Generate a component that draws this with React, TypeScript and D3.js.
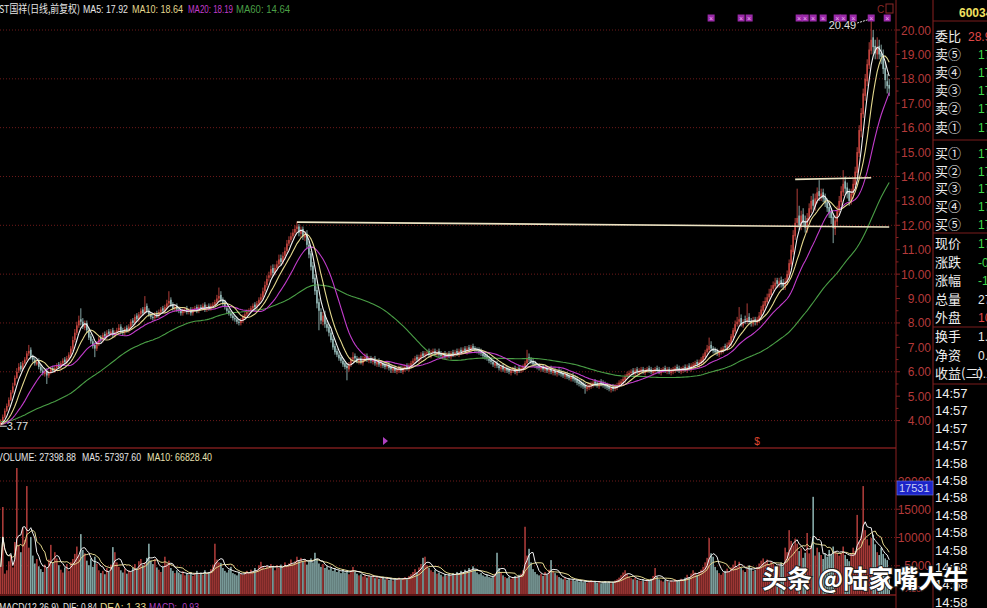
import { useEffect } from "react"
import * as d3 from "d3"

const W = 987
const H = 608

// closes before the first visible candle (only feed the moving averages),
// estimated from where the MA lines start at the left edge
const historyCloses = [
  4.10, 4.05, 4.15, 4.20, 4.12, 4.08, 4.00, 3.95, 4.02, 4.10,
  4.18, 4.25, 4.20, 4.15, 4.08, 4.00, 3.98, 4.05, 4.12, 4.08,
  4.02, 3.96, 3.90, 3.94, 4.00, 4.06, 4.02, 3.98, 3.92, 3.88,
  3.92, 3.98, 4.04, 4.00, 3.95, 3.90, 3.86, 3.90, 3.96, 3.92,
  3.88, 3.84, 3.80, 3.85, 3.90, 3.86, 3.82, 3.78, 3.84, 3.88,
  3.84, 3.80, 3.86, 3.82, 3.78, 3.83, 3.87, 3.82, 3.80,
]

// daily candles (oldest first)
const opens = [
  3.85, 3.95, 4.15, 4.40, 4.60, 4.85, 5.15, 5.45, 5.75, 6.05,
  6.25, 6.10, 6.35, 6.50, 6.75, 6.90, 6.60, 6.50, 6.30, 6.45,
  6.20, 6.05, 5.90, 6.05, 5.85, 5.95, 6.15, 6.00, 6.15, 6.30,
  6.20, 6.35, 6.50, 6.40, 6.55, 6.70, 6.95, 7.30, 7.60, 7.90,
  8.15, 8.05, 7.80, 8.00, 7.70, 7.45, 7.25, 7.10, 6.95, 7.15,
  7.40, 7.30, 7.55, 7.45, 7.65, 7.55, 7.70, 7.50, 7.60, 7.70,
  7.85, 7.70, 7.60, 7.80, 7.70, 7.85, 8.10, 8.00, 8.30, 8.15,
  8.35, 8.55, 8.40, 8.70, 8.50, 8.35, 8.25, 8.20, 8.40, 8.30,
  8.45, 8.60, 8.50, 8.65, 8.80, 8.95, 8.75, 8.55, 8.70, 8.55,
  8.50, 8.40, 8.50, 8.60, 8.45, 8.55, 8.40, 8.55, 8.65, 8.50,
  8.65, 8.60, 8.75, 8.55, 8.70, 8.60, 8.70, 8.75, 8.85, 9.00,
  9.15, 8.95, 8.85, 8.60, 8.50, 8.40, 8.30, 8.20, 8.15, 8.05,
  8.00, 8.10, 8.25, 8.35, 8.45, 8.50, 8.60, 8.75, 8.65, 8.80,
  8.95, 9.05, 9.30, 9.55, 9.85, 9.95, 10.25, 10.05, 10.25, 10.40,
  10.65, 10.50, 10.75, 10.95, 11.25, 11.40, 11.55, 11.70, 11.85, 11.95,
  11.65, 11.85, 11.50, 11.65, 11.20, 10.85, 10.35, 9.85, 9.35, 8.85,
  8.45, 8.05, 8.35, 7.95, 7.85, 7.60, 7.35, 7.05, 6.85, 6.70,
  6.60, 6.45, 6.35, 6.25, 6.10, 6.30, 6.50, 6.65, 6.55, 6.40,
  6.55, 6.35, 6.50, 6.65, 6.45, 6.55, 6.40, 6.55, 6.30, 6.45,
  6.25, 6.35, 6.30, 6.20, 6.30, 6.20, 6.05, 6.15, 6.00, 6.05,
  6.15, 6.00, 6.10, 6.25, 6.10, 6.25, 6.35, 6.45, 6.60, 6.45,
  6.55, 6.75, 6.65, 6.75, 6.85, 6.65, 6.80, 6.85, 6.70, 6.85,
  6.75, 6.60, 6.75, 6.60, 6.75, 6.60, 6.80, 6.70, 6.85, 6.70,
  6.90, 6.80, 6.95, 6.80, 7.00, 6.85, 7.05, 6.95, 6.90, 6.90,
  6.85, 6.75, 6.70, 6.65, 6.55, 6.50, 6.40, 6.25, 6.35, 6.25,
  6.10, 6.25, 6.05, 6.15, 6.10, 5.95, 6.05, 6.15, 5.95, 6.15,
  6.05, 6.10, 6.20, 6.35, 6.60, 6.50, 6.45, 6.35, 6.25, 6.25,
  6.10, 6.25, 6.05, 6.15, 6.00, 6.15, 5.95, 6.05, 5.90, 6.05,
  6.00, 5.95, 5.80, 5.90, 5.85, 5.70, 5.85, 5.75, 5.70, 5.60,
  5.55, 5.50, 5.45, 5.30, 5.35, 5.40, 5.45, 5.60, 5.55, 5.40,
  5.60, 5.55, 5.50, 5.45, 5.40, 5.25, 5.40, 5.30, 5.35, 5.45,
  5.50, 5.60, 5.65, 5.80, 5.85, 5.95, 6.05, 5.90, 6.10, 5.95,
  6.00, 6.10, 5.95, 6.05, 6.15, 6.10, 5.95, 6.00, 6.15, 6.10,
  5.95, 6.05, 6.15, 6.00, 6.10, 5.95, 6.00, 6.05, 6.20, 6.15,
  6.00, 6.05, 6.20, 6.05, 6.25, 6.10, 6.20, 6.25, 6.40, 6.25,
  6.35, 6.45, 6.60, 6.80, 6.90, 7.10, 6.95, 6.90, 6.85, 6.70,
  6.80, 6.85, 7.05, 6.95, 7.10, 7.15, 7.40, 7.65, 7.95, 8.05,
  8.20, 7.90, 8.15, 8.05, 8.25, 8.10, 7.95, 8.15, 8.00, 8.10,
  8.30, 8.50, 8.70, 8.85, 9.05, 9.15, 9.40, 9.50, 9.75, 9.55,
  9.75, 9.65, 9.45, 9.65, 9.95, 10.40, 10.90, 11.55, 12.10, 12.40,
  11.95, 12.45, 12.15, 11.85, 12.25, 12.65, 13.05, 12.75, 13.05, 13.40,
  13.15, 13.35, 13.15, 12.95, 12.75, 12.55, 12.35, 11.85, 12.15, 12.55,
  12.95, 13.35, 13.80, 13.55, 13.35, 12.95, 13.25, 13.65, 14.15, 14.95,
  15.85, 16.55, 17.30, 17.90, 18.55, 19.15, 19.70, 19.35, 19.00, 19.35,
  19.05, 18.95, 18.45, 17.90, 17.75,
]

const highs = [
  4.05, 4.25, 4.50, 4.70, 4.95, 5.25, 5.55, 5.85, 6.15, 6.35,
  6.40, 6.45, 6.60, 6.85, 7.10, 7.00, 6.70, 6.60, 6.50, 6.55,
  6.30, 6.15, 6.10, 6.15, 6.05, 6.20, 6.25, 6.25, 6.35, 6.40,
  6.45, 6.55, 6.60, 6.65, 6.80, 7.05, 7.45, 7.75, 8.05, 8.30,
  8.60, 8.20, 8.10, 8.10, 7.80, 7.55, 7.35, 7.20, 7.25, 7.45,
  7.50, 7.60, 7.65, 7.70, 7.75, 7.75, 7.80, 7.70, 7.80, 7.95,
  7.95, 7.80, 7.85, 7.90, 7.95, 8.15, 8.20, 8.35, 8.40, 8.45,
  8.60, 8.65, 9.10, 8.80, 8.60, 8.45, 8.35, 8.45, 8.50, 8.55,
  8.65, 8.70, 8.75, 8.95, 9.30, 9.05, 8.85, 8.75, 8.80, 8.65,
  8.60, 8.60, 8.65, 8.70, 8.60, 8.65, 8.65, 8.70, 8.75, 8.75,
  8.75, 8.80, 8.85, 8.75, 8.80, 8.80, 8.85, 8.95, 9.15, 9.45,
  9.30, 9.05, 8.95, 8.70, 8.60, 8.50, 8.40, 8.30, 8.25, 8.15,
  8.20, 8.35, 8.45, 8.55, 8.60, 8.70, 8.80, 8.85, 8.90, 9.05,
  9.20, 9.45, 9.70, 9.95, 10.10, 10.35, 10.40, 10.40, 10.55, 10.80,
  10.80, 10.90, 11.10, 11.40, 11.55, 11.70, 11.85, 12.00, 12.15, 12.05,
  11.95, 11.95, 11.75, 11.80, 11.35, 10.95, 10.50, 10.00, 9.50, 9.00,
  8.60, 8.45, 8.50, 8.10, 7.95, 7.70, 7.45, 7.15, 6.95, 6.80,
  6.70, 6.55, 6.45, 6.35, 6.40, 6.60, 6.80, 6.75, 6.65, 6.60,
  6.65, 6.65, 6.75, 6.75, 6.65, 6.65, 6.60, 6.65, 6.50, 6.55,
  6.45, 6.45, 6.40, 6.40, 6.40, 6.30, 6.25, 6.25, 6.20, 6.25,
  6.25, 6.25, 6.30, 6.35, 6.35, 6.45, 6.55, 6.65, 6.70, 6.70,
  6.80, 6.85, 6.85, 6.90, 6.95, 6.90, 6.95, 6.95, 6.90, 6.95,
  6.85, 6.80, 6.85, 6.80, 6.85, 6.85, 6.90, 6.90, 6.95, 6.95,
  7.00, 7.00, 7.05, 7.05, 7.10, 7.10, 7.15, 7.05, 7.00, 7.00,
  6.95, 6.85, 6.80, 6.75, 6.65, 6.60, 6.50, 6.45, 6.45, 6.35,
  6.30, 6.35, 6.25, 6.25, 6.20, 6.15, 6.20, 6.25, 6.20, 6.25,
  6.25, 6.30, 6.45, 6.90, 6.75, 6.60, 6.55, 6.45, 6.35, 6.35,
  6.30, 6.30, 6.25, 6.25, 6.20, 6.25, 6.15, 6.15, 6.10, 6.15,
  6.10, 6.05, 6.00, 6.00, 5.95, 5.90, 5.95, 5.85, 5.80, 5.70,
  5.65, 5.60, 5.55, 5.50, 5.55, 5.60, 5.65, 5.70, 5.65, 5.65,
  5.70, 5.65, 5.60, 5.55, 5.50, 5.45, 5.50, 5.50, 5.55, 5.65,
  5.70, 5.80, 5.90, 6.00, 6.05, 6.10, 6.15, 6.15, 6.20, 6.15,
  6.20, 6.20, 6.15, 6.20, 6.25, 6.20, 6.15, 6.20, 6.25, 6.20,
  6.15, 6.20, 6.25, 6.20, 6.20, 6.15, 6.20, 6.25, 6.30, 6.25,
  6.20, 6.25, 6.30, 6.30, 6.35, 6.35, 6.40, 6.45, 6.50, 6.50,
  6.60, 6.75, 6.90, 7.10, 7.40, 7.25, 7.05, 7.00, 6.95, 6.90,
  7.00, 7.05, 7.15, 7.20, 7.30, 7.55, 7.80, 8.10, 8.25, 8.65,
  8.35, 8.15, 8.30, 8.80, 8.40, 8.20, 8.25, 8.25, 8.25, 8.45,
  8.70, 8.90, 9.05, 9.20, 9.40, 9.55, 9.70, 9.85, 9.85, 9.85,
  9.90, 9.80, 9.85, 10.15, 10.60, 11.20, 11.80, 12.30, 13.50, 12.80,
  12.60, 12.70, 12.40, 12.50, 12.90, 13.20, 13.30, 13.30, 13.55, 13.85,
  13.50, 13.50, 13.30, 13.10, 12.90, 12.70, 12.50, 12.40, 12.80, 13.20,
  13.60, 14.26, 14.00, 13.75, 13.50, 13.50, 13.90, 14.40, 15.20, 16.10,
  16.80, 17.60, 18.20, 18.80, 19.50, 20.49, 20.00, 19.60, 19.70, 19.60,
  19.40, 19.20, 18.70, 18.20, 18.00,
]

const lows = [
  3.77, 3.90, 4.10, 4.35, 4.55, 4.80, 5.10, 5.40, 5.70, 5.95,
  6.00, 6.05, 6.30, 6.45, 6.65, 6.50, 6.40, 6.25, 6.25, 6.10,
  5.95, 5.85, 5.80, 5.50, 5.75, 5.90, 5.95, 5.95, 6.10, 6.10,
  6.10, 6.25, 6.30, 6.30, 6.45, 6.60, 6.85, 7.20, 7.50, 7.80,
  7.90, 7.75, 7.70, 7.60, 7.30, 7.15, 6.95, 6.60, 6.85, 7.05,
  7.20, 7.20, 7.35, 7.35, 7.45, 7.45, 7.40, 7.40, 7.50, 7.60,
  7.55, 7.50, 7.50, 7.60, 7.60, 7.75, 7.90, 7.90, 8.05, 8.05,
  8.25, 8.30, 8.35, 8.40, 8.25, 8.15, 8.10, 8.10, 8.20, 8.20,
  8.35, 8.40, 8.40, 8.55, 8.70, 8.65, 8.50, 8.45, 8.45, 8.40,
  8.30, 8.30, 8.40, 8.35, 8.35, 8.30, 8.30, 8.45, 8.40, 8.40,
  8.50, 8.50, 8.45, 8.45, 8.50, 8.50, 8.60, 8.70, 8.75, 8.90,
  8.85, 8.70, 8.55, 8.40, 8.30, 8.20, 8.10, 8.05, 7.95, 7.90,
  7.90, 8.00, 8.15, 8.25, 8.35, 8.40, 8.50, 8.55, 8.55, 8.70,
  8.85, 8.95, 9.20, 9.45, 9.70, 9.85, 9.90, 9.95, 10.15, 10.30,
  10.35, 10.40, 10.60, 10.85, 11.15, 11.30, 11.45, 11.60, 11.70, 11.55,
  11.50, 11.40, 11.35, 11.05, 10.65, 10.15, 9.65, 9.15, 8.60, 7.70,
  7.95, 7.90, 7.80, 7.65, 7.45, 7.20, 6.90, 6.70, 6.60, 6.45,
  6.35, 6.20, 6.10, 5.65, 6.00, 6.20, 6.40, 6.45, 6.35, 6.30,
  6.30, 6.25, 6.40, 6.40, 6.35, 6.35, 6.30, 6.25, 6.20, 6.20,
  6.15, 6.15, 6.10, 6.10, 6.05, 5.95, 5.95, 5.95, 5.90, 5.95,
  5.95, 5.90, 6.00, 6.05, 6.00, 6.15, 6.25, 6.35, 6.40, 6.35,
  6.45, 6.55, 6.55, 6.65, 6.60, 6.55, 6.70, 6.65, 6.60, 6.60,
  6.55, 6.50, 6.50, 6.50, 6.55, 6.50, 6.60, 6.60, 6.65, 6.60,
  6.70, 6.70, 6.75, 6.70, 6.80, 6.80, 6.85, 6.80, 6.75, 6.70,
  6.65, 6.55, 6.50, 6.45, 6.35, 6.30, 6.20, 6.15, 6.15, 6.05,
  6.00, 6.00, 5.95, 5.95, 5.90, 5.85, 5.95, 5.90, 5.85, 5.95,
  5.95, 6.00, 6.10, 6.30, 6.40, 6.30, 6.20, 6.15, 6.10, 6.05,
  6.00, 6.00, 5.95, 5.95, 5.90, 5.90, 5.85, 5.85, 5.80, 5.85,
  5.80, 5.75, 5.70, 5.70, 5.65, 5.60, 5.60, 5.55, 5.45, 5.40,
  5.35, 5.30, 5.10, 5.20, 5.25, 5.30, 5.35, 5.40, 5.35, 5.30,
  5.40, 5.35, 5.30, 5.25, 5.20, 5.15, 5.20, 5.20, 5.25, 5.35,
  5.40, 5.50, 5.55, 5.70, 5.75, 5.85, 5.85, 5.80, 5.90, 5.85,
  5.90, 5.90, 5.85, 5.95, 5.95, 5.90, 5.85, 5.90, 5.95, 5.90,
  5.85, 5.95, 5.95, 5.90, 5.90, 5.85, 5.90, 5.95, 6.00, 5.95,
  5.90, 5.95, 6.00, 5.95, 6.05, 6.00, 6.10, 6.15, 6.20, 6.15,
  6.25, 6.35, 6.50, 6.70, 6.80, 6.85, 6.75, 6.70, 6.65, 6.60,
  6.70, 6.75, 6.90, 6.85, 7.00, 7.05, 7.30, 7.55, 7.85, 7.90,
  7.85, 7.80, 7.95, 7.95, 7.95, 7.85, 7.85, 7.90, 7.90, 8.00,
  8.20, 8.40, 8.60, 8.75, 8.95, 9.05, 9.30, 9.40, 9.45, 9.45,
  9.45, 9.35, 9.35, 9.55, 9.85, 10.30, 10.80, 11.40, 11.90, 11.80,
  11.80, 11.95, 11.70, 11.70, 12.10, 12.50, 12.60, 12.60, 12.90, 13.00,
  13.00, 12.95, 12.75, 12.55, 12.30, 12.05, 11.27, 11.60, 12.00, 12.40,
  12.80, 13.20, 13.30, 13.10, 12.80, 12.85, 13.10, 13.50, 14.00, 14.80,
  15.60, 16.40, 17.10, 17.70, 18.40, 19.00, 19.00, 18.80, 18.80, 18.80,
  18.60, 18.20, 17.60, 17.40, 17.30,
]

const closes = [
  3.95, 4.15, 4.40, 4.60, 4.85, 5.15, 5.40, 5.75, 6.00, 6.20,
  6.10, 6.35, 6.50, 6.75, 6.85, 6.60, 6.50, 6.35, 6.40, 6.20,
  6.05, 5.95, 6.00, 5.85, 5.95, 6.10, 6.05, 6.15, 6.25, 6.20,
  6.35, 6.45, 6.40, 6.55, 6.70, 6.95, 7.30, 7.60, 7.90, 8.10,
  8.05, 7.85, 7.95, 7.70, 7.40, 7.25, 7.05, 6.95, 7.15, 7.35,
  7.30, 7.50, 7.45, 7.60, 7.55, 7.65, 7.50, 7.60, 7.70, 7.80,
  7.65, 7.60, 7.75, 7.70, 7.85, 8.05, 8.00, 8.25, 8.15, 8.35,
  8.50, 8.40, 8.65, 8.50, 8.35, 8.25, 8.20, 8.35, 8.30, 8.45,
  8.55, 8.50, 8.65, 8.80, 8.90, 8.75, 8.60, 8.65, 8.55, 8.50,
  8.40, 8.50, 8.55, 8.45, 8.50, 8.40, 8.55, 8.60, 8.50, 8.65,
  8.60, 8.70, 8.55, 8.65, 8.60, 8.70, 8.75, 8.85, 9.00, 9.10,
  8.95, 8.80, 8.65, 8.50, 8.40, 8.30, 8.20, 8.15, 8.05, 8.00,
  8.10, 8.25, 8.35, 8.45, 8.50, 8.60, 8.70, 8.65, 8.80, 8.95,
  9.05, 9.30, 9.55, 9.80, 9.95, 10.20, 10.05, 10.25, 10.40, 10.60,
  10.50, 10.75, 10.95, 11.25, 11.40, 11.55, 11.70, 11.85, 11.95, 11.70,
  11.80, 11.55, 11.60, 11.20, 10.80, 10.30, 9.80, 9.30, 8.80, 8.50,
  8.10, 8.30, 7.95, 7.80, 7.60, 7.30, 7.00, 6.80, 6.70, 6.55,
  6.45, 6.30, 6.20, 6.15, 6.30, 6.50, 6.60, 6.55, 6.45, 6.50,
  6.40, 6.55, 6.60, 6.50, 6.55, 6.45, 6.50, 6.35, 6.40, 6.30,
  6.35, 6.25, 6.20, 6.30, 6.15, 6.10, 6.15, 6.05, 6.10, 6.15,
  6.05, 6.15, 6.20, 6.15, 6.25, 6.35, 6.45, 6.55, 6.50, 6.60,
  6.70, 6.65, 6.75, 6.80, 6.70, 6.80, 6.85, 6.75, 6.80, 6.70,
  6.65, 6.70, 6.60, 6.70, 6.65, 6.75, 6.70, 6.80, 6.75, 6.85,
  6.80, 6.90, 6.85, 6.95, 6.90, 7.00, 6.95, 6.90, 6.85, 6.80,
  6.75, 6.65, 6.60, 6.55, 6.45, 6.40, 6.30, 6.35, 6.25, 6.15,
  6.20, 6.10, 6.15, 6.05, 6.00, 6.05, 6.10, 6.00, 6.10, 6.05,
  6.15, 6.20, 6.35, 6.55, 6.50, 6.40, 6.30, 6.25, 6.20, 6.15,
  6.20, 6.10, 6.15, 6.05, 6.10, 6.00, 6.05, 5.95, 6.00, 5.95,
  5.90, 5.85, 5.90, 5.80, 5.75, 5.80, 5.70, 5.65, 5.55, 5.50,
  5.45, 5.40, 5.35, 5.40, 5.45, 5.50, 5.55, 5.50, 5.45, 5.55,
  5.50, 5.45, 5.40, 5.35, 5.30, 5.35, 5.30, 5.40, 5.45, 5.55,
  5.60, 5.70, 5.80, 5.90, 5.95, 6.00, 5.95, 6.05, 6.00, 6.05,
  6.10, 6.00, 6.05, 6.10, 6.05, 6.00, 6.05, 6.10, 6.05, 6.00,
  6.05, 6.10, 6.05, 6.10, 6.00, 6.05, 6.10, 6.15, 6.10, 6.05,
  6.10, 6.15, 6.10, 6.20, 6.15, 6.25, 6.30, 6.35, 6.30, 6.40,
  6.50, 6.65, 6.80, 6.95, 7.05, 6.95, 6.85, 6.80, 6.75, 6.80,
  6.90, 6.95, 7.00, 7.10, 7.20, 7.45, 7.70, 7.95, 8.05, 8.15,
  7.95, 8.00, 8.10, 8.20, 8.05, 8.00, 8.10, 8.05, 8.15, 8.30,
  8.55, 8.75, 8.90, 9.05, 9.20, 9.40, 9.55, 9.65, 9.60, 9.70,
  9.60, 9.50, 9.70, 10.00, 10.45, 11.00, 11.60, 12.10, 12.30, 12.00,
  12.40, 12.10, 11.90, 12.30, 12.70, 13.00, 12.80, 13.10, 13.35, 13.20,
  13.30, 13.10, 12.90, 12.70, 12.50, 12.30, 11.90, 12.20, 12.60, 13.00,
  13.40, 13.70, 13.50, 13.30, 13.00, 13.30, 13.70, 14.20, 15.00, 15.90,
  16.60, 17.40, 18.00, 18.60, 19.20, 19.60, 19.30, 19.05, 19.30, 19.00,
  18.90, 18.40, 17.95, 17.70, 17.60,
]

// volume in axis units (x10)
const volumes = [
  4800, 15400, 3600, 4200, 5800, 6900, 4700, 9200, 22300, 8600,
  7400, 11700, 9600, 19100, 8200, 10100, 6800, 5400, 6200, 4900,
  4400, 3900, 5200, 4600, 6100, 8700, 5600, 7400, 6300, 5100,
  4300, 3800, 4700, 5300, 4100, 5600, 6200, 7100, 8400, 6900,
  10600, 7800, 7200, 5900, 5100, 6300, 4800, 6600, 5400, 4200,
  3700, 4100, 3500, 4600, 3900, 5200, 8300, 7400, 5600, 4800,
  4200, 3800, 4500, 3600, 4100, 3900, 4700, 5300, 4400, 5800,
  6200, 5100, 5600, 6400, 8900, 5900, 5300, 6200, 4700, 4300,
  3900, 4800, 6600, 5400, 5900, 4600, 4100, 3700, 4200, 3800,
  3500, 4000, 3300, 3700, 3400, 3900, 3200, 3600, 4100, 3500,
  3800, 3400, 4200, 3600, 3900, 4400, 5200, 8900, 6100, 5600,
  5500, 4600, 4100, 3800, 4300, 4800, 3700, 3500, 3300, 3900,
  3600, 3400, 3800, 4100, 3700, 4300, 3900, 4600, 4200, 5100,
  5700, 4800, 4400, 5000, 4600, 5300, 4900, 4200, 5100, 4600,
  5200, 4700, 5600, 4900, 5400, 6100, 5300, 5800, 6600, 5900,
  6400, 5700, 6100, 5200, 5800, 6300, 5600, 7300, 6200, 5400,
  4800, 5300, 4600, 4900, 4300, 4700, 4100, 4500, 3900, 4200,
  3700, 4400, 3800, 4100, 3500, 4200, 4800, 3900, 3600, 3300,
  3500, 3100, 3400, 2900, 3200, 3000, 3300, 2800, 3100, 2700,
  2800, 3000, 2600, 2900, 2500, 2700, 2400, 2800, 2600, 2900,
  2500, 2700, 3000, 2600, 3200, 3500, 3900, 4400, 3800, 4700,
  5300, 6400, 6600, 5100, 4600, 4200, 3900, 4300, 3600, 3800,
  3400, 3100, 3500, 3200, 3600, 3300, 3700, 3400, 3900, 3600,
  4100, 3800, 4300, 4000, 4600, 4300, 4900, 4200, 3800, 3500,
  3700, 3300, 3100, 3400, 3000, 2900, 3200, 3600, 7300, 4600,
  3800, 3300, 3000, 2800, 3100, 2700, 2900, 3200, 3000, 3400,
  3600, 4200, 11900, 6800, 8000, 5600, 4400, 3900, 3500, 3300,
  3600, 3200, 3900, 3500, 4300, 6000, 4100, 3700, 3300, 3000,
  2800, 2600, 2900, 2500, 2700, 2400, 2600, 2300, 2500, 2200,
  2400, 2100, 2300, 2000, 2200, 2400, 2100, 2300, 2000, 2200,
  1900, 2100, 2300, 2000, 2200, 1900, 2100, 2400, 2600, 2900,
  3300, 3800, 4200, 3600, 3100, 2800, 2600, 2900, 2500, 2400,
  2300, 2600, 2200, 2500, 2300, 2700, 3200, 4600, 3100, 2600,
  2400, 2200, 2500, 2300, 2100, 2400, 2200, 2600, 2300, 2500,
  2700, 2400, 2900, 3400, 3000, 3600, 4200, 3800, 3400, 3900,
  4300, 4800, 5600, 6400, 9900, 7200, 6600, 4800, 4200, 3700,
  3400, 3800, 4100, 4500, 3900, 4700, 5200, 5900, 4800, 5700,
  4600, 4200, 3900, 4400, 5100, 4600, 4100, 4300, 4800, 5400,
  5900, 6300, 5600, 6100, 5200, 5800, 5300, 4900, 4600, 5200,
  5600, 4900, 8200, 7400, 11300, 9400, 8600, 9800, 8900, 7600,
  8100, 6400, 7300, 10800, 7200, 8600, 17200, 6800, 8200, 7400,
  6900, 6200, 7100, 6600, 7800, 6900, 8400, 7600, 7300, 6800,
  7200, 8400, 6900, 6200, 5800, 7100, 8200, 7600, 14000, 9300,
  10200, 19100, 11300, 9700, 8600, 9900, 10500, 8800, 7400, 6900,
  8200, 7100, 6300, 6000, 2740,
]

const priceTicks = d3.range(4, 21, 1)
const volTicks = [5000, 10000, 15000, 20000]

// hand-drawn horizontal lines: [start index, start price, end index, end price]
const drawnLines = [
  [148, 12.13, 444, 11.93],
  [397, 13.88, 435, 13.95],
]

const topMarkers = [355, 370, 374, 399, 402, 406, 411, 418, 421, 426, 435, 443]

const quoteLabels = ["委比", "卖⑤", "卖④", "卖③", "卖②", "卖①", "买①", "买②", "买③", "买④", "买⑤",
  "现价", "涨跌", "涨幅", "总量", "外盘", "换手", "净资", "收益(二)"]
const quoteValues = ["28.97", "17.98", "17.97", "17.96", "17.95", "17.94", "17.60", "17.59", "17.58", "17.57", "17.56",
  "17.60", "-0.27", "-1.51%", "27399", "10532", "1.23", "0.51", "-0.13"]
const quoteKinds = ["up", "dn", "dn", "dn", "dn", "dn", "dn", "dn", "dn", "dn", "dn",
  "dn", "dn", "dn", "flat", "up", "flat", "flat", "flat"]
const tickTimes = ["14:57", "14:57", "14:57", "14:57", "14:58", "14:58", "14:58", "14:58", "14:58",
  "14:58", "14:58", "14:58", "14:58"]

const UP = "#c4453f"
const DOWN = "#93b8b6"
const GRID = "#6e1a1a"
const AXIS_TXT = "#b43a3a"
const MA_COLORS = { ma5: "#f2f2f2", ma10: "#e4d98e", ma20: "#c23ccc", ma60: "#4a9f46" }

const movingAvg = (vals: number[], n: number) =>
  vals.map((_, i) => d3.mean(vals.slice(Math.max(0, i - n + 1), i + 1)) as number)

const NUM_FONT = "'Liberation Sans', Arial, sans-serif"
const CJK_FONT = "'Noto Sans CJK SC', 'Noto Sans', sans-serif"

export default function App() {
  useEffect(() => {
    document.body.style.margin = "0"
    document.body.style.background = "#000"
    document.body.style.overflow = "hidden"
  }, [])

  const n = Math.min(opens.length, highs.length, lows.length, closes.length, volumes.length)
  const idx = d3.range(n)

  const x = d3.scaleBand<number>().domain(idx).range([0, 890]).paddingInner(0.2)
  const cx = (i: number) => (x(i) as number) + x.bandwidth() / 2
  const yP = d3.scaleLinear().domain([4, 20]).range([420.6, 30])
  const yV = d3.scaleLinear().domain([0, 20000]).range([594, 481])

  // moving averages run over history + visible closes, then keep the visible part
  const allCloses = [...historyCloses, ...closes.slice(0, n)]
  const visible = (arr: number[]) => arr.slice(historyCloses.length)
  const ma = {
    ma5: visible(movingAvg(allCloses, 5)),
    ma10: visible(movingAvg(allCloses, 10)),
    ma20: visible(movingAvg(allCloses, 20)),
    ma60: visible(movingAvg(allCloses, 60)),
  }
  const vma5 = movingAvg(volumes.slice(0, n), 5)
  const vma10 = movingAvg(volumes.slice(0, n), 10)

  const priceLine = d3.line<number>().x((_, i) => cx(i)).y(d => yP(d))
  const volLine = d3.line<number>().x((_, i) => cx(i)).y(d => yV(d))

  const fmt2 = d3.format(".2f")
  const bw = Math.max(1.4, x.bandwidth())

  const hiIdx = d3.maxIndex(highs.slice(0, n))
  const loIdx = d3.minIndex(lows.slice(0, n))

  const rowY = [36, 54, 72, 90, 108, 127, 153, 171, 188, 206, 224, 243, 262, 280, 299, 317, 336, 355, 373]
  const kindColor: Record<string, string> = { up: "#e04848", dn: "#3fd84a", flat: "#e8e8e8" }

  return (
    <svg width={W} height={H} viewBox={`0 0 ${W} ${H}`}
      style={{ display: "block", position: "fixed", left: 0, top: 0, background: "#000" }}>
      <rect x={0} y={0} width={W} height={H} fill="#000" />
      <defs>
        <clipPath id="main-clip"><rect x={0} y={0} width={895} height={447} /></clipPath>
        <clipPath id="vol-clip"><rect x={0} y={464} width={895} height={131} /></clipPath>
      </defs>

      {/* price grid */}
      {priceTicks.filter(t => t % 2 === 0).map(t => (
        <line key={"pg" + t} x1={0} x2={895} y1={yP(t)} y2={yP(t)}
          stroke={GRID} strokeWidth={1} strokeDasharray="1,2" />
      ))}
      {volTicks.map(t => (
        <line key={"vg" + t} x1={0} x2={895} y1={yV(t)} y2={yV(t)}
          stroke={GRID} strokeWidth={1} strokeDasharray="1,2" />
      ))}

      {/* panel frames */}
      <line x1={0} x2={896} y1={448} y2={448} stroke="#7a1c1c" strokeWidth={1.5} />
      <line x1={0} x2={896} y1={595} y2={595} stroke="#7a1c1c" strokeWidth={1.5} />
      <line x1={896} x2={896} y1={0} y2={H} stroke="#8a2020" strokeWidth={1} />
      <line x1={933} x2={933} y1={0} y2={H} stroke="#8a2020" strokeWidth={1} />

      {/* candles */}
      <g clipPath="url(#main-clip)">
        {idx.map(i => {
          const up = closes[i] >= opens[i]
          const top = yP(Math.max(opens[i], closes[i]))
          const bot = yP(Math.min(opens[i], closes[i]))
          const c = up ? UP : DOWN
          return (
            <g key={"c" + i}>
              <line x1={cx(i)} x2={cx(i)} y1={yP(highs[i])} y2={yP(lows[i])} stroke={c} strokeWidth={0.9} />
              <rect x={cx(i) - bw / 2} y={top} width={bw} height={Math.max(1, bot - top)} fill={c} />
            </g>
          )
        })}

        {(["ma60", "ma20", "ma10", "ma5"] as const).map(k => (
          <path key={k} d={priceLine(ma[k]) as string} fill="none" stroke={MA_COLORS[k]} strokeWidth={1.1} />
        ))}

        {drawnLines.map((l, k) => (
          <line key={"dl" + k} x1={cx(l[0])} y1={yP(l[1])} x2={cx(l[2])} y2={yP(l[3])}
            stroke="#ece4c4" strokeWidth={1.6} />
        ))}
      </g>

      {/* high / low annotations */}
      <line x1={cx(hiIdx) - 14} y1={yP(highs[hiIdx]) + 5} x2={cx(hiIdx) - 1} y2={yP(highs[hiIdx]) + 1}
        stroke="#e0e0e0" strokeWidth={1} strokeDasharray="2,1" />
      <text x={cx(hiIdx) - 15} y={yP(highs[hiIdx]) + 11} textAnchor="end" fill="#e0e0e0"
        fontFamily={NUM_FONT} fontSize={11}>{fmt2(highs[hiIdx])}</text>
      <line x1={0} x2={cx(loIdx) + 6} y1={yP(lows[loIdx])} y2={yP(lows[loIdx])} stroke="#e0e0e0" strokeWidth={1} />
      <text x={cx(loIdx) + 6} y={yP(lows[loIdx]) + 4} fill="#e0e0e0"
        fontFamily={NUM_FONT} fontSize={11}>{fmt2(lows[loIdx])}</text>

      {/* top event markers */}
      {topMarkers.map(i => (
        <g key={"tm" + i}>
          <rect x={cx(i) - 3.5} y={14.5} width={7} height={7} fill="#9a2aa8" />
          <text x={cx(i)} y={20.5} textAnchor="middle" fill="#f0b0f4" fontFamily={NUM_FONT} fontSize={7}>×</text>
        </g>
      ))}

      {/* bottom event markers */}
      <path d={`M${cx(192) - 2},437 L${cx(192) + 3},441 L${cx(192) - 2},445 Z`} fill="#b040c0" />
      <text x={cx(378)} y={445} textAnchor="middle" fill="#e04830" fontFamily={NUM_FONT} fontSize={10}>$</text>

      {/* price axis */}
      {priceTicks.map(t => (
        <g key={"pt" + t}>
          <line x1={896} x2={900} y1={yP(t)} y2={yP(t)} stroke="#8a2020" />
          <text x={931} y={yP(t) + 4.5} textAnchor="end" fill={AXIS_TXT}
            fontFamily={NUM_FONT} fontSize={12}>{fmt2(t)}</text>
        </g>
      ))}
      {priceTicks.slice(0, -1).map(t => (
        <line key={"pm" + t} x1={896} x2={898.5} y1={yP(t + 0.5)} y2={yP(t + 0.5)} stroke="#8a2020" />
      ))}

      {/* volume bars */}
      <g clipPath="url(#vol-clip)">
        {idx.map(i => {
          const up = closes[i] >= opens[i]
          return (
            <rect key={"v" + i} x={cx(i) - bw / 2} y={yV(volumes[i])} width={bw}
              height={Math.max(0.5, yV(0) - yV(volumes[i]))} fill={up ? "#a83a38" : "#86aaa8"} />
          )
        })}
        <path d={volLine(vma10) as string} fill="none" stroke="#e4d98e" strokeWidth={1} />
        <path d={volLine(vma5) as string} fill="none" stroke="#f2f2f2" strokeWidth={1} />
      </g>

      {/* volume axis */}
      {volTicks.map(t => (
        <g key={"vt" + t}>
          <line x1={896} x2={900} y1={yV(t)} y2={yV(t)} stroke="#8a2020" />
          <text x={931} y={yV(t) + 4.5} textAnchor="end" fill={AXIS_TXT}
            fontFamily={NUM_FONT} fontSize={12}>{t}</text>
        </g>
      ))}
      <text x={905} y={592} fill={AXIS_TXT} fontFamily={NUM_FONT} fontSize={9}>X10</text>
      <rect x={897} y={481} width={36} height={14} fill="#1c24c8" stroke="#6a78e8" strokeWidth={0.6} />
      <text x={899} y={492} fill="#c8d0f4" fontFamily={NUM_FONT} fontSize={11}>17531</text>

      {/* top-right icons */}
      <rect x={886} y={4} width={7} height={9} fill="none" stroke="#8a2828" strokeWidth={1} />
      <text x={877} y={13} fill="#8a2828" fontFamily={NUM_FONT} fontSize={10}>C</text>

      {/* headers */}
      <g fontFamily={NUM_FONT} fontSize={11}>
        <text x={-1} y={13} fill="#e6e6e6" fontFamily={CJK_FONT} textLength={81} lengthAdjust="spacingAndGlyphs">ST国祥(日线,前复权)</text>
        <text x={83} y={13} fill="#e6e6e6" textLength={45} lengthAdjust="spacingAndGlyphs">MA5: 17.92</text>
        <text x={132} y={13} fill={MA_COLORS.ma10} textLength={51} lengthAdjust="spacingAndGlyphs">MA10: 18.64</text>
        <text x={188} y={13} fill={MA_COLORS.ma20} textLength={45} lengthAdjust="spacingAndGlyphs">MA20: 18.19</text>
        <text x={236} y={13} fill={MA_COLORS.ma60} textLength={54} lengthAdjust="spacingAndGlyphs">MA60: 14.64</text>

        <text x={-3} y={461} fill="#e6e6e6" textLength={79} lengthAdjust="spacingAndGlyphs">VOLUME: 27398.88</text>
        <text x={82} y={461} fill="#e6e6e6" textLength={59} lengthAdjust="spacingAndGlyphs">MA5: 57397.60</text>
        <text x={147} y={461} fill="#e8e0b0" textLength={65} lengthAdjust="spacingAndGlyphs">MA10: 66828.40</text>

        <text x={-1} y={611} fill="#e6e6e6" textLength={60} lengthAdjust="spacingAndGlyphs">MACD(12,26,9)</text>
        <text x={63} y={611} fill="#e6e6e6" textLength={34} lengthAdjust="spacingAndGlyphs">DIF: 0.84</text>
        <text x={100} y={611} fill="#e4d98e" textLength={46} lengthAdjust="spacingAndGlyphs">DEA: 1.33</text>
        <text x={149} y={611} fill="#b040c0" textLength={50} lengthAdjust="spacingAndGlyphs">MACD: -0.93</text>
      </g>

      {/* quote panel */}
      <text x={959} y={17} fill="#f0e060" fontFamily={NUM_FONT} fontSize={12} fontWeight="bold">600340</text>
      {[21, 140, 233, 327, 384].map(y => (
        <line key={"qs" + y} x1={933} x2={W} y1={y} y2={y} stroke="#7a1c1c" strokeWidth={1} />
      ))}
      {quoteLabels.map((lab, k) => (
        <g key={"q" + k}>
          <text x={935} y={rowY[k] + 5} fill="#eeeeee" fontFamily={CJK_FONT} fontSize={13}>{lab}</text>
          <text x={k === 0 ? 968 : k === 18 ? 972 : 978} y={rowY[k] + 5} fill={kindColor[quoteKinds[k]]}
            fontFamily={NUM_FONT} fontSize={12}>{quoteValues[k]}</text>
        </g>
      ))}
      {tickTimes.map((t, k) => (
        <text key={"tt" + k} x={935} y={393 + k * 17.4 + 5} fill="#eeeeee" fontFamily={NUM_FONT} fontSize={13}>{t}</text>
      ))}

      {/* watermark */}
      <g fontFamily={CJK_FONT} fontSize={25} fontWeight="bold" fill="#ffffff"
        stroke="#202020" strokeWidth={2} style={{ paintOrder: "stroke" }}>
        <text x={762} y={588}>头条</text>
        <text x={818} y={588}>@陆家嘴大牛</text>
      </g>
    </svg>
  )
}
